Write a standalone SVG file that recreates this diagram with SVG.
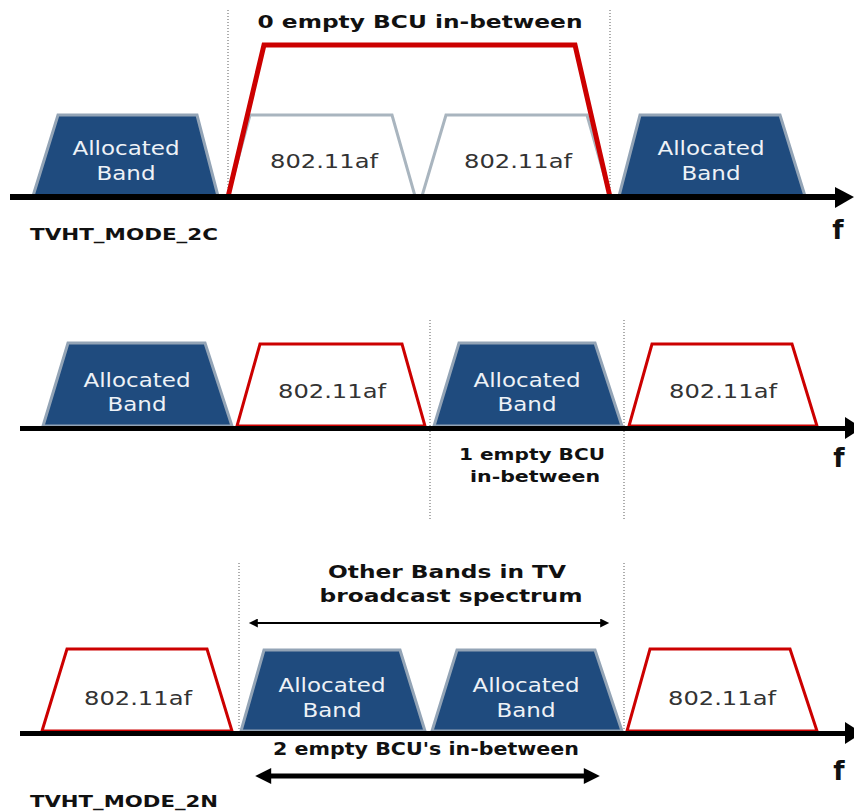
<svg xmlns="http://www.w3.org/2000/svg" width="854" height="811" viewBox="0 0 854 811">
<style>
.alloc{fill:#1f4b7e;stroke:#93a4b6;stroke-width:3;stroke-linejoin:miter}
.gray{fill:#fff;stroke:#a9b5bf;stroke-width:3}
.red{fill:#fff;stroke:#cc0000;stroke-width:3}
.redbig{fill:none;stroke:#cc0000;stroke-width:5}
.wt{font-family:"DejaVu Sans",Verdana,sans-serif;font-size:20px;fill:#eef2f7;text-anchor:middle}
.gt{font-family:"DejaVu Sans",Verdana,sans-serif;font-size:20px;fill:#333;text-anchor:middle}
.bt{font-family:"DejaVu Sans",Verdana,sans-serif;font-weight:bold;fill:#111}
.dot{stroke:#777;stroke-width:1.2;stroke-dasharray:1 2}
</style>
<defs>
<marker id="ahs" viewBox="0 0 10 10" refX="2" refY="5" markerWidth="14" markerHeight="9" markerUnits="userSpaceOnUse" orient="auto-start-reverse"><path d="M0,0 L10,5 L0,10 z" fill="#000"/></marker>
<marker id="ahb" viewBox="0 0 10 10" refX="2" refY="5" markerWidth="22" markerHeight="16" markerUnits="userSpaceOnUse" orient="auto-start-reverse"><path d="M0,0 L10,5 L0,10 z" fill="#000"/></marker>
</defs>

<!-- guide lines -->
<g id="guides">
<line class="dot" x1="228" y1="10" x2="228" y2="197"/>
<line class="dot" x1="610" y1="10" x2="610" y2="197"/>
<line class="dot" x1="430" y1="320" x2="430" y2="520"/>
<line class="dot" x1="624" y1="320" x2="624" y2="520"/>
<line class="dot" x1="239" y1="563" x2="239" y2="733"/>
<line class="dot" x1="624" y1="563" x2="624" y2="733"/>
</g>

<!-- Panel 1 -->
<g id="p1-alloc1"><polygon class="alloc" points="58,115 197,115 218,196 33,196"/><text class="wt" x="126" y="155" textLength="107" lengthAdjust="spacingAndGlyphs">Allocated</text><text class="wt" x="126" y="180" textLength="59" lengthAdjust="spacingAndGlyphs">Band</text></g>
<g id="p1-af1"><polygon class="gray" points="250,115 392,115 415,196 228,196"/><text class="gt" x="324" y="168" textLength="108" lengthAdjust="spacingAndGlyphs">802.11af</text></g>
<g id="p1-af2"><polygon class="gray" points="446,115 587,115 610,196 422,196"/><text class="gt" x="518" y="168" textLength="108" lengthAdjust="spacingAndGlyphs">802.11af</text></g>
<g id="p1-alloc2"><polygon class="alloc" points="640,115 780,115 805,196 619,196"/><text class="wt" x="711" y="155" textLength="107" lengthAdjust="spacingAndGlyphs">Allocated</text><text class="wt" x="711" y="180" textLength="59" lengthAdjust="spacingAndGlyphs">Band</text></g>
<g id="p1-channel"><polyline class="redbig" points="228,197 264,45 575,45 610,197"/><text class="bt" x="420" y="28" font-size="18" text-anchor="middle" textLength="325" lengthAdjust="spacingAndGlyphs">0 empty BCU in-between</text></g>
<g id="p1-axis"><rect x="10" y="194" width="826" height="6" fill="#000"/><polygon points="835,187 854,197 835,208" fill="#000"/><text class="bt" x="838" y="239" font-size="26" text-anchor="middle">f</text><text class="bt" x="30" y="240" font-size="16" textLength="188" lengthAdjust="spacingAndGlyphs">TVHT_MODE_2C</text></g>

<!-- Panel 2 -->
<g id="p2-alloc1"><polygon class="alloc" points="68,343 205,343 232,426 43,426"/><text class="wt" x="137" y="387" textLength="107" lengthAdjust="spacingAndGlyphs">Allocated</text><text class="wt" x="137" y="411" textLength="59" lengthAdjust="spacingAndGlyphs">Band</text></g>
<g id="p2-af1"><polygon class="red" points="260,344 402,344 425,426 237,426"/><text class="gt" x="332" y="398" textLength="108" lengthAdjust="spacingAndGlyphs">802.11af</text></g>
<g id="p2-alloc2"><polygon class="alloc" points="459,343 595,343 622,426 434,426"/><text class="wt" x="527" y="387" textLength="107" lengthAdjust="spacingAndGlyphs">Allocated</text><text class="wt" x="527" y="411" textLength="59" lengthAdjust="spacingAndGlyphs">Band</text></g>
<g id="p2-af2"><polygon class="red" points="652,344 792,344 817,426 629,426"/><text class="gt" x="723" y="398" textLength="108" lengthAdjust="spacingAndGlyphs">802.11af</text></g>
<g id="p2-axis"><rect x="20" y="426" width="826" height="5" fill="#000"/><polygon points="845,417 862,428 845,439" fill="#000"/><text class="bt" x="839" y="467" font-size="26" text-anchor="middle">f</text><text class="bt" x="532" y="460" font-size="16" text-anchor="middle" textLength="146" lengthAdjust="spacingAndGlyphs">1 empty BCU</text><text class="bt" x="535" y="482" font-size="16" text-anchor="middle" textLength="130" lengthAdjust="spacingAndGlyphs">in-between</text></g>

<!-- Panel 3 -->
<g id="p3-af1"><polygon class="red" points="67,649 207,649 232,731 42,731"/><text class="gt" x="138" y="705" textLength="108" lengthAdjust="spacingAndGlyphs">802.11af</text></g>
<g id="p3-alloc1"><polygon class="alloc" points="264,650 400,650 425,731 241,731"/><text class="wt" x="332" y="692" textLength="107" lengthAdjust="spacingAndGlyphs">Allocated</text><text class="wt" x="332" y="717" textLength="59" lengthAdjust="spacingAndGlyphs">Band</text></g>
<g id="p3-alloc2"><polygon class="alloc" points="457,650 595,650 622,731 432,731"/><text class="wt" x="526" y="692" textLength="107" lengthAdjust="spacingAndGlyphs">Allocated</text><text class="wt" x="526" y="717" textLength="59" lengthAdjust="spacingAndGlyphs">Band</text></g>
<g id="p3-af2"><polygon class="red" points="650,649 790,649 817,731 627,731"/><text class="gt" x="722" y="705" textLength="108" lengthAdjust="spacingAndGlyphs">802.11af</text></g>
<g id="p3-axis"><rect x="20" y="731" width="826" height="5" fill="#000"/><polygon points="845,722 862,733 845,744" fill="#000"/><text class="bt" x="839" y="780" font-size="26" text-anchor="middle">f</text><text class="bt" x="30" y="807" font-size="16" textLength="188" lengthAdjust="spacingAndGlyphs">TVHT_MODE_2N</text></g>
<g id="p3-labels"><text class="bt" x="447" y="578" font-size="18" text-anchor="middle" textLength="238" lengthAdjust="spacingAndGlyphs">Other Bands in TV</text><text class="bt" x="451" y="602" font-size="18" text-anchor="middle" textLength="263" lengthAdjust="spacingAndGlyphs">broadcast spectrum</text><text class="bt" x="426" y="755" font-size="17" text-anchor="middle" textLength="306" lengthAdjust="spacingAndGlyphs">2 empty BCU's in-between</text></g>

<!-- connectors -->
<g id="connectors">
<line x1="256" y1="623" x2="602" y2="623" stroke="#000" stroke-width="2" marker-start="url(#ahs)" marker-end="url(#ahs)"/>
<line x1="268" y1="776" x2="587" y2="776" stroke="#000" stroke-width="5" marker-start="url(#ahb)" marker-end="url(#ahb)"/>
</g>
</svg>
